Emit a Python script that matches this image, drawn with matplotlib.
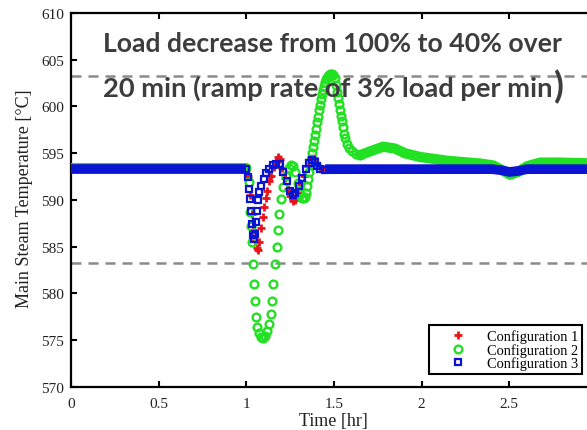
import matplotlib
matplotlib.use("Agg")
import matplotlib.pyplot as plt
import numpy as np

# ---------------- data ----------------
# Configuration 1 (red +)
c1_t_pre = [0.0, 1.0]
c1_y_pre = [593.3, 593.3]
c1_t = [1.000, 1.010, 1.020, 1.030, 1.040, 1.050, 1.058, 1.066, 1.075, 1.085, 1.093,
        1.100, 1.110, 1.120, 1.130, 1.140, 1.155, 1.170, 1.180, 1.190, 1.205, 1.220,
        1.235, 1.250, 1.265, 1.280, 1.295, 1.310, 1.330, 1.350, 1.370, 1.385, 1.400,
        1.420, 1.450]
c1_y = [593.3, 592.6, 590.5, 588.5, 586.8, 585.6, 584.9, 584.7, 585.5, 587.0, 588.2,
        589.3, 590.2, 591.0, 592.0, 592.6, 593.5, 594.2, 594.6, 594.4, 593.4, 592.3,
        591.2, 590.4, 589.9, 590.0, 590.8, 591.7, 592.6, 593.6, 594.3, 594.5, 594.0,
        593.4, 593.3]
c1_t_tail = [1.45, 2.40, 2.50, 2.60, 3.0]
c1_y_tail = [593.3, 593.3, 593.0, 593.3, 593.3]

# Configuration 2 (green o)
c2_t_pre = [0.0, 1.0]
c2_y_pre = [593.4, 593.4]
c2_t = [1.000, 1.015, 1.021, 1.027, 1.033, 1.038, 1.044, 1.050, 1.055, 1.061, 1.072,
        1.084, 1.095, 1.107, 1.118, 1.130, 1.141, 1.147, 1.152, 1.164, 1.175, 1.181,
        1.187, 1.198, 1.209, 1.227, 1.244, 1.255, 1.266, 1.278, 1.292, 1.306, 1.318,
        1.329, 1.335, 1.341, 1.347, 1.352, 1.358, 1.364, 1.369, 1.375, 1.381, 1.386,
        1.392, 1.398, 1.403, 1.409, 1.415, 1.420, 1.426, 1.432, 1.438, 1.443, 1.449,
        1.455, 1.461, 1.466, 1.472, 1.480, 1.489, 1.497, 1.506, 1.512, 1.518, 1.523,
        1.529, 1.535, 1.540, 1.546, 1.552, 1.558, 1.563, 1.575, 1.586, 1.603, 1.626,
        1.649]
c2_y = [593.4, 591.9, 588.7, 587.2, 585.5, 583.2, 581.0, 579.2, 577.5, 576.4, 575.8,
        575.3, 575.2, 575.5, 576.0, 576.7, 577.8, 579.2, 581.0, 583.2, 585.0, 586.8,
        588.5, 590.1, 591.4, 592.6, 593.4, 593.7, 593.6, 593.0, 591.8, 590.6, 590.2,
        590.2, 590.3, 590.8, 591.5, 592.2, 593.0, 593.7, 594.4, 595.0, 595.7, 596.3,
        597.0, 597.6, 598.3, 598.9, 599.6, 600.2, 600.8, 601.3, 601.8, 602.2, 602.6,
        602.9, 603.1, 603.3, 603.4, 603.5, 603.5, 603.4, 603.0, 602.3, 601.6, 600.9,
        600.3, 599.6, 599.0, 598.4, 597.8, 597.1, 596.6, 596.0, 595.6, 595.2, 594.9,
        594.8]
c2_t_tail = [1.649, 1.706, 1.780, 1.848, 1.905, 1.991, 2.145, 2.333, 2.407, 2.459,
             2.504, 2.550, 2.600, 2.675, 2.790, 3.0]
c2_y_tail = [594.8, 595.2, 595.7, 595.5, 595.0, 594.6, 594.2, 593.9, 593.7, 593.2,
             592.7, 593.0, 593.6, 594.0, 594.0, 593.9]

# Configuration 3 (blue squares)
c3_t_pre = [0.0, 1.0]
c3_y_pre = [593.3, 593.3]
c3_t = [1.000, 1.010, 1.016, 1.021, 1.027, 1.033, 1.039, 1.045, 1.051, 1.056, 1.062,
        1.068, 1.075, 1.085, 1.100, 1.115, 1.130, 1.150, 1.170, 1.190, 1.210, 1.230,
        1.250, 1.265, 1.280, 1.300, 1.320, 1.340, 1.360, 1.375, 1.390, 1.405, 1.420,
        1.450]
c3_y = [593.3, 592.5, 591.2, 590.1, 588.8, 587.4, 586.3, 585.8, 586.4, 587.6, 588.8,
        590.0, 590.9, 591.5, 592.2, 592.9, 593.3, 593.7, 593.9, 593.8, 593.0, 592.0,
        591.0, 590.5, 590.7, 591.5, 592.4, 593.3, 594.0, 594.3, 594.1, 593.6, 593.3,
        593.2]
c3_t_tail = [1.45, 2.40, 2.45, 2.50, 2.55, 2.60, 3.0]
c3_y_tail = [593.3, 593.3, 593.2, 593.0, 593.1, 593.3, 593.3]

limits_hi = 603.3
limits_lo = 583.3

x_ticks = [0, 0.5, 1, 1.5, 2, 2.5]
x_tick_labels = ["0", "0.5", "1", "1.5", "2", "2.5"]
y_ticks = [570, 575, 580, 585, 590, 595, 600, 605, 610]

labels = ["Configuration 1", "Configuration 2", "Configuration 3"]
title1 = "Load decrease from 100% to 40% over"
title2 = "20 min (ramp rate of 3% load per min"

# ---------------- figure ----------------
W, H = 587, 431
fig = plt.figure(figsize=(W / 100, H / 100), dpi=100)
ax_left, ax_right = 71, 597
ax_top, ax_bot = 14, 388
ax = fig.add_axes([ax_left / W, 1 - ax_bot / H, (ax_right - ax_left) / W, (ax_bot - ax_top) / H])

red = "#e8141a"
green = "#22e022"
blue = "#0a14d2"

serif = ["Liberation Serif", "DejaVu Serif"]

# dashed limit lines
ls_dash = (0, (4.0, 2.8))
ax.axhline(limits_hi, color="#8a8a8a", lw=1.8, linestyle=ls_dash, zorder=1)
ax.axhline(limits_lo, color="#8a8a8a", lw=1.8, linestyle=ls_dash, zorder=1)

# Config 1
ax.plot(c1_t_pre, c1_y_pre, color=red, lw=6, solid_capstyle="butt", zorder=2)
ax.plot(c1_t_tail, c1_y_tail, color=red, lw=6, solid_capstyle="butt", zorder=2)
h1, = ax.plot(c1_t, c1_y, linestyle="none", marker="+", ms=6, mew=2.0, color=red, zorder=2)

# Config 2
ax.plot(c2_t_pre, c2_y_pre, color=green, lw=7.2, solid_capstyle="round", zorder=3)
ax.plot(c2_t_tail, c2_y_tail, color=green, lw=7.4, solid_capstyle="round",
        solid_joinstyle="round", zorder=3)
h2, = ax.plot(c2_t, c2_y, linestyle="none", marker="o", ms=5.6, mew=1.7,
              markerfacecolor="none", markeredgecolor=green, zorder=3)

# Config 3
ax.plot(c3_t_pre, c3_y_pre, color=blue, lw=7.0, solid_capstyle="butt", zorder=4)
ax.plot(c3_t_tail, c3_y_tail, color=blue, lw=7.0, solid_capstyle="butt",
        solid_joinstyle="round", zorder=4)
h3, = ax.plot(c3_t, c3_y, linestyle="none", marker="s", ms=4.8, mew=1.6,
              markerfacecolor="none", markeredgecolor=blue, zorder=4)

ax.set_xlim(0, 3)
ax.set_ylim(570, 610)
ax.set_xticks(x_ticks)
ax.set_xticklabels(x_tick_labels)
ax.set_yticks(y_ticks)

for s in ax.spines.values():
    s.set_linewidth(1.6)
    s.set_color("black")
ax.tick_params(direction="in", length=4.5, width=1.5, top=True, right=True,
               labelsize=11, colors="black")
ax.tick_params(axis="x", pad=7)
ax.tick_params(axis="y", pad=5)
for lab in ax.get_xticklabels() + ax.get_yticklabels():
    lab.set_family(serif)
    lab.set_color("#222222")

ax.set_ylabel("Main Steam Temperature [°C]", family=serif, fontsize=13, color="#222222")
ax.yaxis.set_label_coords(-0.072, 0.505)
ax.set_xlabel("Time [hr]", family=serif, fontsize=13, color="#222222", va="top")
ax.xaxis.set_label_coords(0.498, -0.067)

# legend
leg = ax.legend([h1, h2, h3], labels, loc="lower right",
                bbox_to_anchor=(0.9715, 0.0348), borderaxespad=0,
                prop={"family": serif, "size": 10.4}, fancybox=False,
                edgecolor="black", framealpha=1, labelspacing=0.0,
                handlelength=3.5, handletextpad=0.3, borderpad=0.25,
                markerscale=1.0)
leg.get_frame().set_linewidth(1.5)

# annotation text
tcol = "#3d3d3d"
tfam = ["Lato", "DejaVu Sans"]
fig.text(103 / W, 1 - 44 / H, title1, family=tfam, weight="bold",
         fontsize=19.2, color=tcol, ha="left", va="center")
t2 = fig.text(103 / W, 1 - 88 / H, title2, family=tfam, weight="bold",
              fontsize=19.7, color=tcol, ha="left", va="center")
fig.canvas.draw()
bb = t2.get_window_extent()
fig.text((bb.x1 + 1) / W, (bb.y0 + bb.y1) / 2 / H + 0.002, ")", family=tfam,
         weight="bold", fontsize=26, color=tcol, ha="left", va="center")

fig.savefig("out.png", dpi=100)
